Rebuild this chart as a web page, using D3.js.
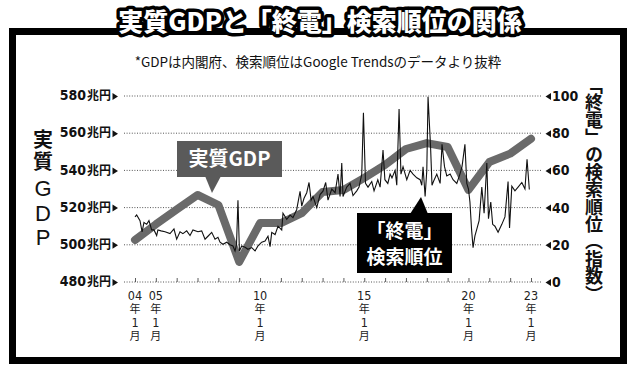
<!DOCTYPE html>
<html>
<head>
<meta charset="utf-8">
<script src="https://cdn.jsdelivr.net/npm/d3@7"></script>
<style>
  body { margin: 0; background: #fff; }
  svg { display: block; }
</style>
</head>
<body>
<main></main>
<script>
var width = 640;
var height = 375;

// real GDP (trillion yen), one point per year
var gdpYears = [2004, 2005, 2006, 2007, 2008, 2009, 2010, 2011, 2012, 2013,
  2014, 2015, 2016, 2017, 2018, 2019, 2020, 2021, 2022, 2023];
var gdpValues = [502.6, 511, 519, 526.8, 521.4, 490.8, 511.7, 511.7, 517, 528.4,
  529.5, 536, 543, 551.5, 554.7, 552.6, 529.5, 544.5, 549, 557];

// google trends index for 終電
var searchTime = [2004.00, 2004.08, 2004.24, 2004.34, 2004.43, 2004.56, 2004.67, 2004.80, 2004.91,
  2005.04, 2005.10, 2005.25, 2005.44, 2005.68, 2005.87, 2006.00, 2006.16, 2006.30, 2006.48, 2006.64, 2006.78,
  2007.02, 2007.20, 2007.36, 2007.50, 2007.68, 2007.84, 2007.98, 2008.08, 2008.22, 2008.40, 2008.56, 2008.70,
  2008.80, 2008.87, 2008.94, 2009.01, 2009.12, 2009.28, 2009.42, 2009.60, 2009.76, 2009.90,
  2010.08, 2010.24, 2010.38, 2010.48, 2010.56, 2010.72, 2010.86, 2011.04, 2011.10, 2011.28, 2011.44, 2011.58, 2011.76, 2011.92,
  2012.00, 2012.11, 2012.24, 2012.35, 2012.45, 2012.54, 2012.72, 2012.88, 2013.02, 2013.15, 2013.26, 2013.44, 2013.60, 2013.74, 2013.84, 2013.92, 2013.98,
  2014.16, 2014.32, 2014.46, 2014.64, 2014.75, 2014.88, 2014.96, 2015.06, 2015.18, 2015.36, 2015.47, 2015.65, 2015.76, 2015.90, 2015.99,
  2016.13, 2016.24, 2016.33, 2016.48, 2016.56, 2016.67, 2016.76, 2016.86, 2017.04, 2017.20, 2017.34, 2017.52, 2017.68, 2017.76, 2017.82, 2017.92,
  2018.00, 2018.06, 2018.18, 2018.25, 2018.32, 2018.48, 2018.64, 2018.73, 2018.85, 2018.96, 2019.12, 2019.26, 2019.44, 2019.59, 2019.69, 2019.83, 2019.92,
  2020.00, 2020.07, 2020.15, 2020.22, 2020.31, 2020.39, 2020.51, 2020.64, 2020.75, 2020.88, 2020.96, 2021.07, 2021.16, 2021.27, 2021.42, 2021.60, 2021.75, 2021.90, 2021.97,
  2022.08, 2022.23, 2022.38, 2022.56, 2022.71, 2022.81, 2022.92, 2023.00];
var searchRank = [35, 36, 33, 27, 32, 31, 33, 28, 28,
  25, 28, 27.5, 27, 26, 28.5, 23, 27, 26, 27.5, 25, 28,
  27, 27.5, 23, 24.6, 26.7, 23, 24, 21.4, 20.3, 21.4, 20, 19.4,
  16.7, 20, 44, 16.7, 19.4, 18.7, 17.6, 18.5, 16.7, 19.4,
  21.4, 22, 24.6, 19, 26.7, 25.5, 30, 28, 37, 33.7, 36, 34.6, 39, 48.8,
  40.8, 45, 48, 53.5, 44, 46, 40, 47, 48.8, 53.5, 44, 50, 48, 58, 46, 64, 46,
  51, 53, 46.5, 49, 51, 58, 91, 53, 51, 54, 49, 55, 51, 71, 55,
  53, 58, 56, 60, 52, 93, 58, 62, 55, 60, 58, 56, 55, 52, 62,
  46, 60, 99.6, 73, 52, 54, 58, 53, 74, 62, 57, 58, 55, 53, 58, 62, 74,
  53, 50, 43, 28, 18.5, 24.8, 28, 33, 51, 37, 64, 34, 43, 31, 30, 26.7, 31, 35, 54,
  29, 51.5, 49, 51, 53.5, 50, 66, 49.7];

var gdpTicks = [480, 500, 520, 540, 560, 580];
var rankTicks = [0, 20, 40, 60, 80, 100];
var tickYears = d3.range(2004, 2024);
var labelYears = [2004, 2005, 2010, 2015, 2020, 2023];

var narrow = '"Liberation Sans Narrow", "DejaVu Sans Condensed", "Noto Sans CJK JP", sans-serif';
var jp = '"Noto Sans CJK JP", sans-serif';

var svg = d3.select('main').append('svg')
  .attr('width', width)
  .attr('height', height);

svg.append('rect')
  .attr('width', width)
  .attr('height', height)
  .attr('fill', '#fff');

var x = d3.scaleLinear().domain([2004, 2023]).range([135, 531]);
var yL = d3.scaleLinear().domain([480, 580]).range([282, 96]);
var yR = d3.scaleLinear().domain([0, 100]).range([282, 96]);

// frame
svg.append('rect')
  .attr('x', 12.5).attr('y', 31.5)
  .attr('width', 611).attr('height', 329)
  .attr('fill', 'none')
  .attr('stroke', '#000')
  .attr('stroke-width', 7);

// dotted grid
svg.append('g').selectAll('line')
  .data(gdpTicks)
  .join('line')
  .attr('x1', 124).attr('x2', 541)
  .attr('y1', function(d) { return yL(d); })
  .attr('y2', function(d) { return yL(d); })
  .attr('stroke', '#555')
  .attr('stroke-width', 1)
  .attr('stroke-dasharray', '1,1.6');

// year ticks on the base line
var xAxis = svg.append('g')
  .attr('transform', 'translate(0,' + yL(480) + ')')
  .call(d3.axisBottom(x).tickValues(tickYears).tickSize(-4).tickFormat(''));
xAxis.select('.domain').remove();
xAxis.selectAll('.tick line').attr('stroke', '#333').attr('stroke-width', 0.8);

// stacked year labels, one text each
labelYears.forEach(function(yr) {
  var t = svg.append('text')
    .attr('x', x(yr))
    .attr('y', 295)
    .attr('fill', '#222')
    .attr('text-anchor', 'middle');
  var parts = [String(yr).slice(2), '年', '1', '月'];
  var ys = [295, 308.5, 322, 335.5];
  parts.forEach(function(p, i) {
    t.append('tspan')
      .attr('x', x(yr))
      .attr('y', ys[i] + 4.5)
      .style('font-family', i % 2 ? jp : narrow)
      .style('font-size', i % 2 ? '11px' : '12.5px')
      .text(p);
  });
});

// left axis labels
var leftAxis = svg.append('g')
  .attr('transform', 'translate(111,0)')
  .call(d3.axisLeft(yL).tickValues(gdpTicks).tickSize(0).tickPadding(0)
    .tickFormat(function(d) { return d; }));
leftAxis.select('.domain').remove();
leftAxis.selectAll('.tick text').remove();
leftAxis.selectAll('.tick').each(function(d) {
  var t = d3.select(this);
  var txt = t.append('text')
    .attr('x', 0).attr('dy', '0.36em')
    .attr('text-anchor', 'end')
    .attr('fill', '#111')
    .attr('font-weight', 'bold');
  txt.append('tspan').style('font-family', narrow).style('font-size', '14px').text(d);
  txt.append('tspan').style('font-family', jp).style('font-size', '12px').attr('dx', 1).text('兆円');
  t.append('path').attr('d', 'M1.5,-3.5L7,0L1.5,3.5Z').attr('fill', '#111');
});

// right axis labels
var rightAxis = svg.append('g')
  .attr('transform', 'translate(552,0)')
  .call(d3.axisRight(yR).tickValues(rankTicks).tickSize(0).tickPadding(0));
rightAxis.select('.domain').remove();
rightAxis.selectAll('.tick text')
  .attr('x', 0)
  .attr('fill', '#111')
  .style('font-family', narrow)
  .style('font-size', '14px')
  .style('font-weight', 'bold');
rightAxis.selectAll('.tick').append('path')
  .attr('d', 'M-1,-3.5L-6.5,0L-1,3.5Z').attr('fill', '#111');

// GDP thick line
var gdpLine = d3.line()
  .x(function(d, i) { return x(gdpYears[i]); })
  .y(function(d) { return yL(d); });
svg.append('path')
  .datum(gdpValues)
  .attr('d', gdpLine)
  .attr('fill', 'none')
  .attr('stroke', '#6a6a6a')
  .attr('stroke-width', 8)
  .attr('stroke-linecap', 'round')
  .attr('stroke-linejoin', 'round');

// search rank line
var rankLine = d3.line()
  .x(function(d, i) { return x(searchTime[i]); })
  .y(function(d) { return yR(d); });
svg.append('path')
  .datum(searchRank)
  .attr('d', rankLine)
  .attr('fill', 'none')
  .attr('stroke', '#111')
  .attr('stroke-width', 1.1)
  .attr('stroke-linejoin', 'miter');

// callout: 実質GDP
svg.append('path')
  .attr('d', 'M205,176L221,176L212,193Z')
  .attr('fill', '#5a5a5a');
svg.append('rect')
  .attr('x', 177).attr('y', 141).attr('width', 105).attr('height', 36)
  .attr('fill', '#5a5a5a');
svg.append('text')
  .attr('x', 229.5).attr('y', 159).attr('dy', '0.36em')
  .attr('text-anchor', 'middle')
  .attr('fill', '#fff')
  .style('font-family', jp)
  .style('font-size', '20px')
  .style('font-weight', 'bold')
  .text('実質GDP');

// callout: 終電 検索順位
svg.append('path')
  .attr('d', 'M410,214L428,214L421,197Z')
  .attr('fill', '#000');
svg.append('rect')
  .attr('x', 357).attr('y', 213).attr('width', 95).attr('height', 60)
  .attr('fill', '#000');
var callout = svg.append('text')
  .attr('text-anchor', 'middle')
  .attr('fill', '#fff')
  .style('font-family', jp)
  .style('font-size', '19px')
  .style('font-weight', 'bold');
callout.append('tspan').attr('x', 404.5).attr('y', 238).text('「終電」');
callout.append('tspan').attr('x', 404.5).attr('y', 264).text('検索順位');

// left axis title, stacked in one text
var leftTitle = [['実', 139, true], ['質', 161, true], ['G', 188, false], ['D', 213, false], ['P', 237, false]];
var lt = svg.append('text')
  .attr('text-anchor', 'middle')
  .attr('fill', '#111');
leftTitle.forEach(function(c) {
  lt.append('tspan')
    .attr('x', 43).attr('y', c[1] + 7.5)
    .style('font-family', c[2] ? jp : '"Liberation Sans", sans-serif')
    .style('font-size', c[2] ? '20px' : '22px')
    .style('font-weight', c[2] ? 'bold' : 'normal')
    .text(c[0]);
});

// right axis title, vertical writing
svg.append('text')
  .attr('x', 594).attr('y', 76)
  .attr('fill', '#111')
  .style('writing-mode', 'vertical-rl')
  .style('font-family', jp)
  .style('font-size', '18px')
  .style('font-weight', 'bold')
  .style('letter-spacing', '-0.6px')
  .text('「終電」の検索順位（指数）');

// title with heavy outline
svg.append('text')
  .attr('x', 320).attr('y', 22).attr('dy', '0.36em')
  .attr('text-anchor', 'middle')
  .attr('fill', '#fff')
  .attr('stroke', '#000')
  .attr('stroke-width', 7)
  .attr('stroke-linejoin', 'round')
  .style('paint-order', 'stroke')
  .style('font-family', jp)
  .style('font-size', '25px')
  .style('font-weight', 900)
  .text('実質GDPと「終電」検索順位の関係');

svg.append('text')
  .attr('x', 318).attr('y', 62).attr('dy', '0.36em')
  .attr('text-anchor', 'middle')
  .attr('fill', '#111')
  .style('font-family', jp)
  .style('font-size', '13.5px')
  .text('*GDPは内閣府、検索順位はGoogle Trendsのデータより抜粋');
</script>
</body>
</html>
